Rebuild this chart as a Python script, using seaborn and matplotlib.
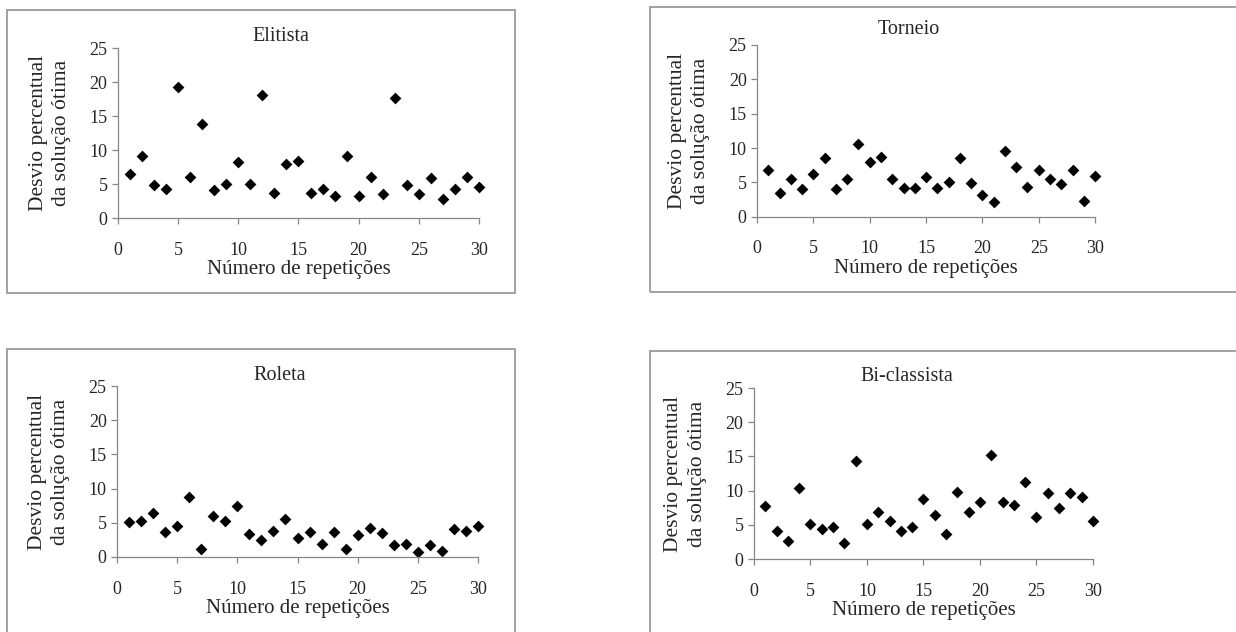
import pandas as pd
import matplotlib
matplotlib.use('Agg')
import matplotlib.pyplot as plt
from matplotlib.patches import Rectangle
import seaborn as sns

# Repeticoes 1..30
repeticoes = list(range(1, 31))

elitista = [6.5, 9.1, 4.8, 4.3, 19.2, 6.1, 13.8, 4.1, 5.0, 8.2,
            5.0, 18.1, 3.7, 7.9, 8.4, 3.7, 4.3, 3.2, 9.1, 3.2,
            6.1, 3.5, 17.6, 4.8, 3.5, 5.9, 2.8, 4.3, 6.1, 4.6]
torneio = [6.75, 3.5, 5.5, 4.0, 6.2, 8.5, 4.0, 5.5, 10.6, 8.0,
           8.7, 5.5, 4.2, 4.2, 5.8, 4.2, 5.1, 8.5, 4.85, 3.2,
           2.2, 9.6, 7.2, 4.4, 6.75, 5.5, 4.8, 6.75, 2.3, 5.9]
roleta = [5.1, 5.25, 6.4, 3.65, 4.5, 8.75, 1.2, 6.0, 5.3, 7.5,
          3.4, 2.5, 3.8, 5.6, 2.8, 3.65, 1.9, 3.65, 1.1, 3.2,
          4.3, 3.45, 1.7, 1.9, 0.8, 1.7, 0.9, 4.1, 3.85, 4.5]
biclassista = [7.7, 4.1, 2.6, 10.45, 5.1, 4.45, 4.75, 2.4, 14.35, 5.1,
               6.85, 5.55, 4.05, 4.75, 8.8, 6.45, 3.7, 9.85, 6.85, 8.35,
               15.2, 8.35, 7.9, 11.3, 6.2, 9.6, 7.5, 9.6, 9.0, 5.55]

titulos = ["Elitista", "Torneio", "Roleta", "Bi-classista"]
series = [elitista, torneio, roleta, biclassista]

x_ticks = [0, 5, 10, 15, 20, 25, 30]
y_ticks = [0, 5, 10, 15, 20, 25]

sns.set_style("white")
plt.rcParams['font.family'] = ['Liberation Serif', 'DejaVu Serif']

fig = plt.figure(figsize=(12.36, 6.32), dpi=100)

# axes positions [left, bottom, width, height] and outer chart boxes
ax_pos = [[0.0955, 0.655, 0.292, 0.269],
          [0.6125, 0.657, 0.2735, 0.272],
          [0.0947, 0.1187, 0.292, 0.2703],
          [0.610, 0.1155, 0.2743, 0.2705]]
box_pos = [[0.0057, 0.536, 0.411, 0.448],
           [0.526, 0.538, 0.5, 0.451],
           [0.0057, -0.1, 0.411, 0.548],
           [0.526, -0.1, 0.5, 0.545]]
title_y = [1.07, 1.09, 1.065, 1.065]

cinza = '#868686'

for i in range(4):
    fig.patches.append(Rectangle(box_pos[i][:2], box_pos[i][2], box_pos[i][3],
                                 transform=fig.transFigure, fill=False,
                                 edgecolor='#9a9a9a', linewidth=1.3))
    ax = fig.add_axes(ax_pos[i])
    df = pd.DataFrame({'rep': repeticoes, 'desvio': series[i]})
    sns.scatterplot(data=df, x='rep', y='desvio', ax=ax, marker='D',
                    s=36, color='black', linewidth=0, clip_on=False)
    ax.set_xlim(0, 30)
    ax.set_ylim(0, 25)
    ax.set_xticks(x_ticks)
    ax.set_yticks(y_ticks)
    ax.tick_params(axis='both', labelsize=13, length=4, width=0.9,
                   color=cinza, direction='out', left=True, bottom=True)
    ax.tick_params(axis='x', pad=13)
    for side in ['top', 'right']:
        ax.spines[side].set_visible(False)
    for side in ['left', 'bottom']:
        ax.spines[side].set_color(cinza)
        ax.spines[side].set_linewidth(0.9)
    ax.set_xlabel("Número de repetições", fontsize=15, labelpad=1)
    ax.set_ylabel("Desvio percentual\nda solução ótima", fontsize=15.5,
                  labelpad=13, linespacing=1.35)
    ax.text(0.45, title_y[i], titulos[i], transform=ax.transAxes,
            ha='center', va='center', fontsize=14.5)

fig.savefig('out.png', dpi=100)
